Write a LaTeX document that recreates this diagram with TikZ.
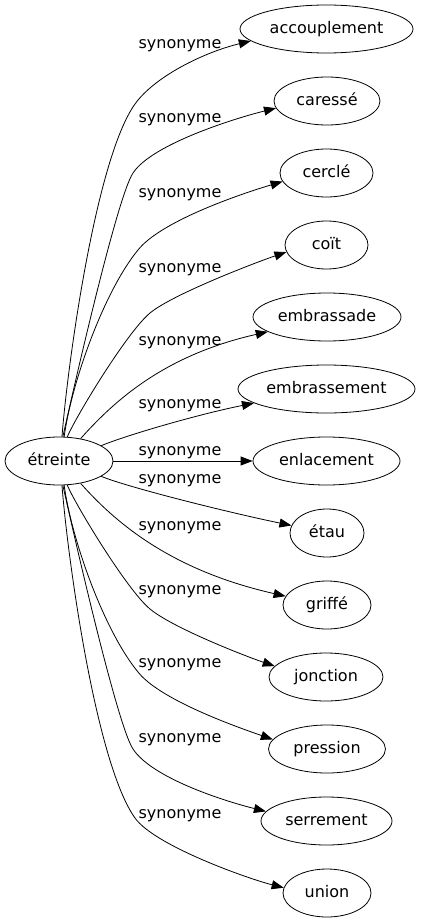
\documentclass[tikz,border=0pt]{standalone}
\usepackage{fontspec}
\setmainfont{DejaVu Sans}
\usetikzlibrary{arrows.meta,shapes.geometric}
\begin{document}
\begin{tikzpicture}[x=1pt,y=-1pt,
  word/.style={draw,ellipse,line width=0.8pt,minimum height=48pt,inner sep=0pt,
    text height=11.5pt,text depth=2.5pt,font=\fontsize{16}{19}\selectfont},
  lbl/.style={inner sep=0pt,text height=11.5pt,text depth=2.5pt,font=\fontsize{16}{19}\selectfont},
  edge/.style={line width=0.8pt,-{Triangle[length=12pt,width=9pt]}}]
\useasboundingbox (0,0) rectangle (421,923);
\node[word,minimum width=108pt] (src) at (59,461) {étreinte};
\node[word,minimum width=173pt] (acc) at (326.5,29) {accouplement};
\node[word,minimum width=106pt] (car) at (327,101) {caressé};
\node[word,minimum width=93pt] (cer) at (326.5,173) {cerclé};
\node[word,minimum width=83pt] (coi) at (326.5,245) {coït};
\node[word,minimum width=148pt] (emb) at (327,317) {embrassade};
\node[word,minimum width=177pt] (embt) at (326.5,389) {embrassement};
\node[word,minimum width=147pt] (enl) at (326.5,461) {enlacement};
\node[word,minimum width=74pt] (eta) at (327,533) {étau};
\node[word,minimum width=88pt] (gri) at (327,605) {griffé};
\node[word,minimum width=114pt] (jon) at (326,677) {jonction};
\node[word,minimum width=117pt] (pre) at (327,749) {pression};
\node[word,minimum width=131pt] (ser) at (326.5,821) {serrement};
\node[word,minimum width=88pt] (uni) at (327,893) {union};
\node[lbl] (l1) at (180,44) {synonyme};
\node[lbl] (l2) at (180,118) {synonyme};
\node[lbl] (l3) at (180,193) {synonyme};
\node[lbl] (l4) at (180,268) {synonyme};
\node[lbl] (l5) at (180,341) {synonyme};
\node[lbl] (l6) at (180,404) {synonyme};
\node[lbl] (l7) at (180,451) {synonyme};
\node[lbl] (l8) at (180,479) {synonyme};
\node[lbl] (l9) at (180,526) {synonyme};
\node[lbl] (l10) at (180,590) {synonyme};
\node[lbl] (l11) at (180,663) {synonyme};
\node[lbl] (l12) at (180,738) {synonyme};
\node[lbl] (l13) at (180,814) {synonyme};
\draw[edge] (src.83) .. controls (67,370) and (95,160) .. (135,104) .. controls (155,76) and (205,52) .. (acc.189);
\draw[edge] (src.81) .. controls (71,400) and (116.5,198) .. (133,173) .. controls (152,144) and (236,118) .. (car.188);
\draw[edge] (src.78) .. controls (72,380) and (105,290) .. (138,250) .. controls (160,222) and (237,195) .. (cer.191);
\draw[edge] (src.71) .. controls (75,418) and (127,332) .. (150,313) .. controls (173,294) and (257,262) .. (coi.190);
\draw[edge] (src.46) .. controls (115,400) and (165,355) .. (emb.194);
\draw[edge] (src.20) .. controls (130,434) and (200,414) .. (embt.191);
\draw[edge] (src.east) -- (enl.west);
\draw[edge] (src.-20) .. controls (130,488) and (231,513) .. (eta.168);
\draw[edge] (src.-46) .. controls (115,522) and (170,570) .. (gri.168);
\draw[edge] (src.-71) .. controls (75,504) and (127,590) .. (150,609) .. controls (173,628) and (245,656) .. (jon.168);
\draw[edge] (src.-78) .. controls (72,542) and (105,632) .. (138,672) .. controls (160,700) and (237,727) .. (pre.170);
\draw[edge] (src.-81) .. controls (71,522) and (116.5,724) .. (133,749) .. controls (152,778) and (224,801) .. (ser.171);
\draw[edge] (src.-83) .. controls (67,552) and (95,762) .. (135,818) .. controls (155,846) and (249,879) .. (uni.173);
\end{tikzpicture}
\end{document}
